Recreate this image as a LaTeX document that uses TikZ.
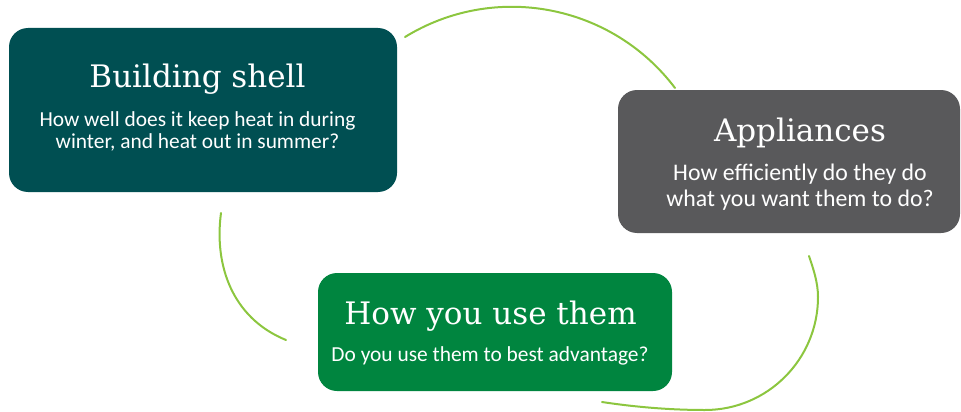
\documentclass[tikz,border=0pt]{standalone}
\usepackage{fontspec}
\setmainfont{Carlito}
\newfontfamily\headfont{DejaVu Serif}

\definecolor{shellteal}{HTML}{004F52}
\definecolor{applgray}{HTML}{59595B}
\definecolor{usegreen}{HTML}{00853F}
\definecolor{arcgreen}{HTML}{8CC63F}

\tikzset{
  card/.style={draw=none, rounded corners=19pt, inner sep=0pt, outer sep=0pt},
  heading/.style={anchor=base, inner sep=0pt, text=white, font=\headfont\fontsize{31}{37}\selectfont},
  question/.style={anchor=base, inner sep=0pt, text=white, font=\fontsize{21.4}{25}\selectfont},
  bigquestion/.style={question, font=\fontsize{23.8}{28}\selectfont},
  cyclearc/.style={draw=arcgreen, line width=2pt, line cap=round}
}

\begin{document}
\begin{tikzpicture}[x=1pt, y=-1pt]
\useasboundingbox (0,0) rectangle (961,412);

% three rounded cards
\node[card, fill=shellteal, minimum width=388pt, minimum height=164pt] (shell) at (203,110) {};
\node[card, fill=applgray, minimum width=342pt, minimum height=143pt] (appl) at (789,161.5) {};
\node[card, fill=usegreen, minimum width=354pt, minimum height=118pt] (use) at (495,332) {};

% card texts
\node[heading] (shellT) at (197.5,88) {Building shell};
\node[question] (shellQ1) at (197.5,126.7) {How well does it keep heat in during};
\node[question] (shellQ2) at (197.5,148.3) {winter, and heat out in summer?};

\node[heading] (applT) at (800,141) {Appliances};
\node[bigquestion] (applQ1) at (800,180) {How efficiently do they do};
\node[bigquestion] (applQ2) at (800,206) {what you want them to do?};

\node[heading] (useT) at (490.5,324) {How you use them};
\node[question] (useQ) at (490,361.7) {Do you use them to best advantage?};

% cycle arcs between the cards
\coordinate (a1s) at (405,37);
\coordinate (a1e) at (675,88);
\draw[cyclearc] (a1s) .. controls (494.6,-18.1) and (611.6,4.0) .. (a1e);

\coordinate (a2s) at (221,213);
\coordinate (a2e) at (286,340);
\draw[cyclearc] (a2s) .. controls (214,265) and (232,318) .. (a2e);

\coordinate (a3s) at (809,256);
\coordinate (a3r) at (818,297);
\coordinate (a3b) at (705,410);
\coordinate (a3e) at (602,402);
\draw[cyclearc] (a3s) .. controls (813,268) and (818,282) .. (a3r)
  .. controls (818,359.4) and (767.4,410) .. (a3b)
  .. controls (670,410) and (635,407) .. (a3e);
\end{tikzpicture}
\end{document}
